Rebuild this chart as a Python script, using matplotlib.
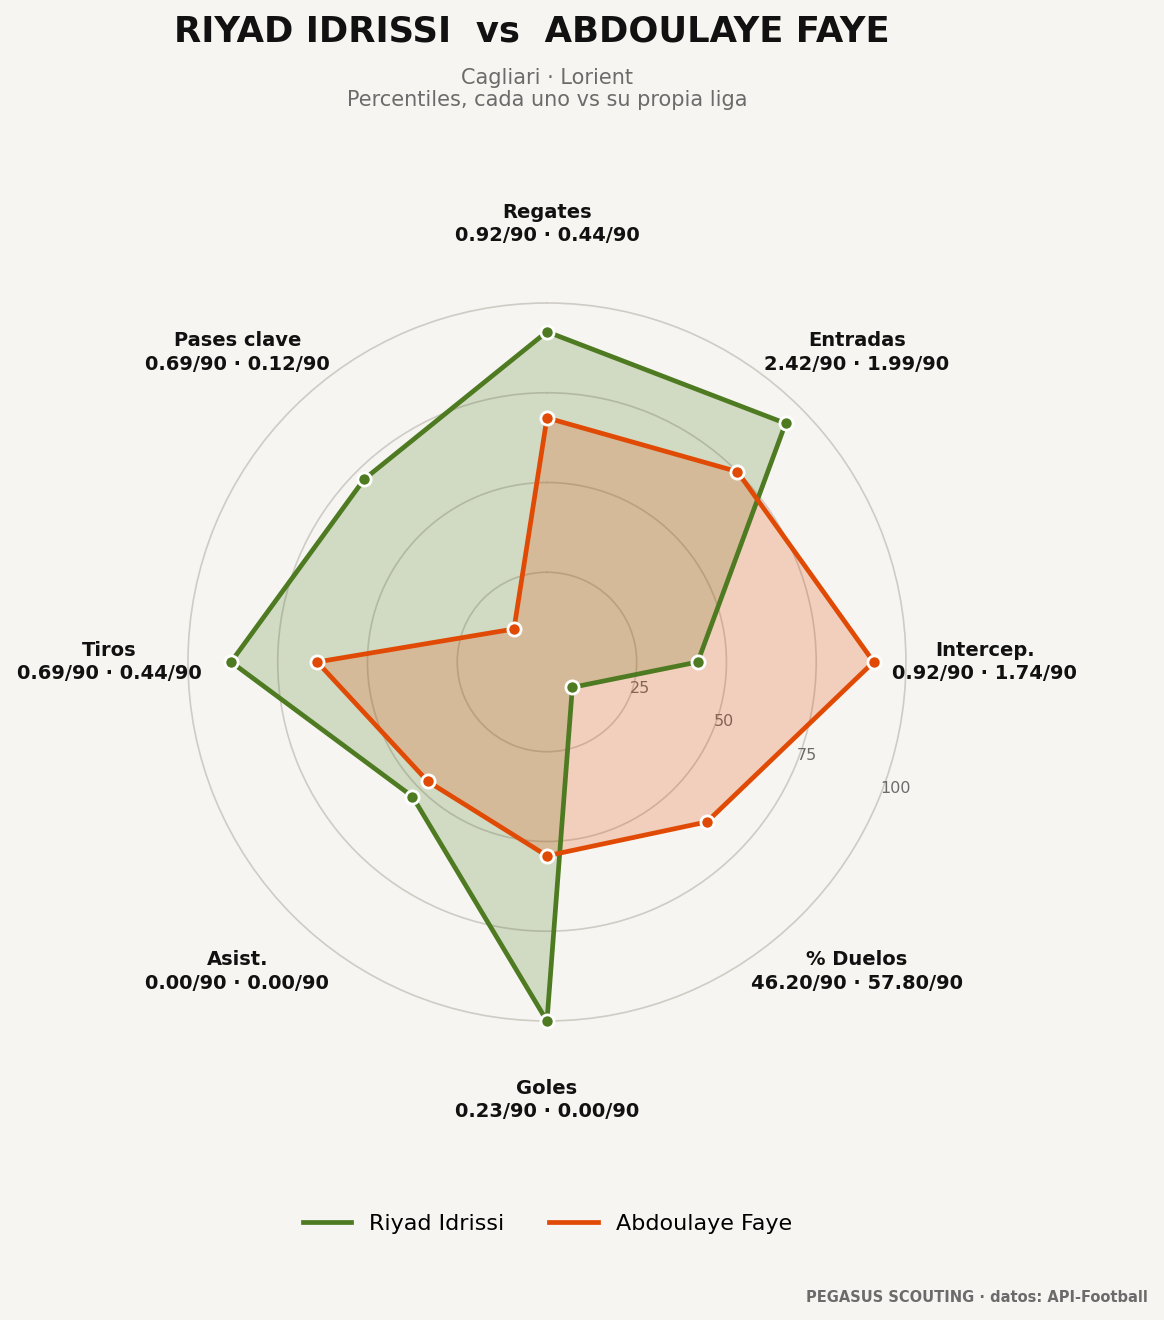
import numpy as np
import matplotlib
matplotlib.use("Agg")
import matplotlib.pyplot as plt

# datos
metricas = ["Regates", "Entradas", "Intercep.", "% Duelos", "Goles", "Asist.", "Tiros", "Pases clave"]
jugador_a = "Riyad Idrissi"
jugador_b = "Abdoulaye Faye"
pct_a = [92, 94, 42, 10, 100, 53, 88, 72]
pct_b = [68, 75, 91, 63, 54, 47, 64, 13]
por90_a = ["0.92", "2.42", "0.92", "46.20", "0.23", "0.00", "0.69", "0.69"]
por90_b = ["0.44", "1.99", "1.74", "57.80", "0.00", "0.00", "0.44", "0.12"]
r_ticks = [25, 50, 75, 100]

BG = "#f6f5f1"
VERDE = "#4e7a21"
NARANJA = "#e04a04"

fig = plt.figure(figsize=(11.64, 13.2), dpi=100, facecolor=BG)
ax = fig.add_axes([0.1615, 0.2265, 0.6168, 0.544], polar=True)
ax.set_facecolor(BG)
ax.set_theta_offset(np.pi / 2)
ax.set_theta_direction(-1)

n = len(metricas)
angulos = np.linspace(0, 2 * np.pi, n, endpoint=False)
ang_cerrado = np.concatenate([angulos, angulos[:1]])

for vals, color, nombre in [(pct_a, VERDE, jugador_a), (pct_b, NARANJA, jugador_b)]:
    v = np.concatenate([vals, vals[:1]])
    ax.fill(ang_cerrado, v, color=color, alpha=0.22, zorder=2)
    ax.plot(ang_cerrado, v, color=color, lw=3.4, zorder=3, label=nombre)
    ax.plot(angulos, vals, "o", color=color, ms=9.5, mec="white", mew=2, zorder=4, clip_on=False)

ax.set_ylim(0, 100)
ax.set_xticks(angulos)
ax.set_xticklabels([])
ax.xaxis.grid(False)
ax.set_yticks(r_ticks)
ax.set_yticklabels([str(t) for t in r_ticks], fontsize=11.5, color="#6b6b6b")
ax.set_rlabel_position(112)
ax.yaxis.grid(True, color="#cfcbc5", lw=1.2)
for gl in ax.yaxis.get_gridlines():
    gl.set_clip_on(False)
ax.spines["polar"].set_visible(False)

for ang, m, a, b in zip(angulos, metricas, por90_a, por90_b):
    ax.text(ang, 122, f"{m}\n{a}/90 · {b}/90", ha="center", va="center",
            fontsize=14, fontweight="bold", color="#111111", linespacing=1.3)

fig.text(0.457, 0.9765, "RIYAD IDRISSI  vs  ABDOULAYE FAYE", ha="center", va="center",
         fontsize=25.5, fontweight="bold", color="#111111")
fig.text(0.47, 0.9325, "Cagliari · Lorient\nPercentiles, cada uno vs su propia liga",
         ha="center", va="center", fontsize=15, color="#6b6b6b", linespacing=1.15)

fig.legend(loc="center", bbox_to_anchor=(0.47, 0.0727), ncol=2, frameon=False,
           fontsize=16, handlelength=2.2, columnspacing=2.0)

fig.text(0.986, 0.017, "PEGASUS SCOUTING · datos: API-Football", ha="right", va="center",
         fontsize=10.5, fontweight="bold", color="#6b6b6b")

fig.savefig("out.png", dpi=100, facecolor=BG)
